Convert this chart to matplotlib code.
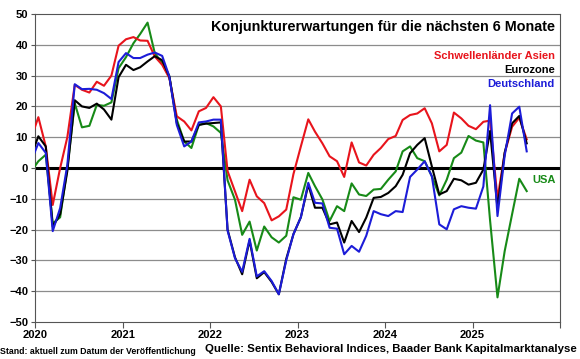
import pandas as pd
import matplotlib
matplotlib.use('Agg')
import matplotlib.pyplot as plt

plt.rcParams['font.family'] = ['Liberation Sans', 'DejaVu Sans']
plt.rcParams['font.weight'] = 'bold'

# monthly values Dec 2019 - Aug 2025 (Dec 2019 only feeds the clipped start)
monate = pd.date_range('2019-12-01', '2025-08-01', freq='MS') + pd.Timedelta(days=14)

asien = [9.5,
         16.5, 7, -12, 0, 10, 27, 25.4, 24.5, 28, 26.7, 30, 39.7,
         41.8, 42.5, 41.4, 41.3, 36.2, 33.5, 29.2, 16.8, 15.1, 12.2, 18.4, 19.5,
         23, 20, -1, -7.6, -14, -3.8, -9.2, -11.4, -17, -15.7, -13.5, -2,
         7, 15.8, 11.8, 8, 3.8, 2.2, -2.9, 8.3, 1.8, 0.8, 4.3, 6.5,
         9.4, 10.4, 15.6, 17.2, 17.7, 19.4, 14.5, 5.4, 7.5, 18, 16.1, 13.7,
         12.6, 15, 15.4, -10, 4.8, 13.4, 16.3, 9.3]

eurozone = [3.7,
            10.3, 7, -19, -15, -1, 22, 20, 19.5, 20.9, 19, 15.7, 29.5,
            33.5, 31.8, 32.7, 34.6, 36.3, 35, 29.7, 14.6, 8.6, 8.6, 14, 14.4,
            14.6, 14.8, -20, -29, -34.5, -23.5, -35.8, -33.8, -37, -41, -29.5, -21.5,
            -16, -5.4, -12.9, -12.9, -18.3, -17.7, -24.2, -17.2, -20.8, -16.1, -9.7, -9.4,
            -8.1, -5.9, -2.2, 4.8, 7.5, 9.7, 0.5, -8.6, -7.5, -3.5, -4, -5.4,
            -4.8, -0.5, 12, -13, 5, 14.5, 16.9, 8]

deutschland = [2,
               8.1, 4.9, -20.5, -13, 1, 27.2, 25.6, 25.7, 25.4, 24.3, 22.4, 34.4,
               37.3, 35.7, 35.7, 36.8, 37.5, 36.4, 29.7, 14, 7, 8.6, 14.8, 15.1,
               15.7, 15.7, -20.3, -29.3, -33.7, -23, -35.2, -33.5, -36.7, -41, -30, -21.5,
               -16, -4.8, -11.3, -11.5, -19.4, -19.7, -28, -25.3, -27.2, -22, -14, -15,
               -15.6, -14, -14.3, -2.9, -0.5, 2.2, -2.7, -18.3, -19.9, -13.4, -12.4, -12.9,
               -13.2, -6, 20.4, -15.6, 4, 17.7, 19.9, 5.4]

usa = [-1.2,
       2.2, 4.3, -18, -16, 0, 21, 13.2, 13.7, 20.5, 20.2, 21.3, 32.4,
       36, 40.5, 43.5, 47.2, 37.3, 34, 29.7, 15.7, 8.6, 6.5, 14, 14.6,
       13.5, 11.4, -4, -10.3, -21.7, -17.4, -26.8, -19, -22.5, -24.2, -22, -9.5,
       -10.3, -1.6, -5.9, -10.2, -17.2, -12.4, -14, -5, -8.6, -9.1, -7, -6.8,
       -3.8, -1.1, 5.4, 7, 3.2, 2.2, -2.7, -8.9, -3.8, 3.2, 5, 10.4,
       8.9, 8.3, -17, -42, -27, -15, -3.5, -7.5]

jahre = ['2020', '2021', '2022', '2023', '2024', '2025']

c_rot = '#e8141c'
c_blau = '#1c1cd8'
c_gruen = '#178a17'

fig = plt.figure(figsize=(5.8, 3.59), dpi=100)
ax = fig.add_axes([35/580, 37/359, 525/580, 308/359])

for y in range(-40, 50, 10):
    if y != 0:
        ax.axhline(y, color='#8c8c8c', lw=0.9, zorder=1)
ax.axhline(0, color='black', lw=2.2, zorder=2)

ax.plot(monate, usa, color=c_gruen, lw=1.5, zorder=3)
ax.plot(monate, asien, color=c_rot, lw=1.5, zorder=3)
ax.plot(monate, eurozone, color='black', lw=1.5, zorder=4)
ax.plot(monate, deutschland, color=c_blau, lw=1.5, zorder=5)

ax.set_xlim(pd.Timestamp('2020-01-01'), pd.Timestamp('2026-01-01'))
ax.set_ylim(-50, 50)
ax.set_yticks(range(-50, 51, 10))
ax.set_xticks([pd.Timestamp(f'{j}-01-01') for j in range(2020, 2027)])
ax.set_xticklabels(jahre + [''])
ax.tick_params(axis='both', labelsize=8, direction='out', length=3, width=0.8, color='#555555', pad=2)
ax.tick_params(axis='x', length=4)
for s in ax.spines.values():
    s.set_color('#555555')
    s.set_linewidth(0.8)

ax.text(0.99, 0.957, 'Konjunkturerwartungen für die nächsten 6 Monate', transform=ax.transAxes,
        ha='right', va='center', fontsize=10.4, fontweight='bold', color='black', zorder=6)
ax.text(0.99, 0.864, 'Schwellenländer Asien', transform=ax.transAxes, ha='right', va='center',
        fontsize=8, fontweight='bold', color=c_rot)
ax.text(0.99, 0.818, 'Eurozone', transform=ax.transAxes, ha='right', va='center',
        fontsize=8, fontweight='bold', color='black')
ax.text(0.99, 0.773, 'Deutschland', transform=ax.transAxes, ha='right', va='center',
        fontsize=8, fontweight='bold', color=c_blau)
ax.text(0.947, 0.461, 'USA', transform=ax.transAxes, ha='left', va='center',
        fontsize=8, fontweight='bold', color=c_gruen)

fig.text(0.0, 8/359, 'Stand: aktuell zum Datum der Veröffentlichung', ha='left', va='center',
         fontsize=6.3, fontweight='bold')
fig.text(577/580, 10/359, 'Quelle: Sentix Behavioral Indices, Baader Bank Kapitalmarktanalyse',
         ha='right', va='center', fontsize=8.2, fontweight='bold')

plt.savefig('out.png', dpi=100)
